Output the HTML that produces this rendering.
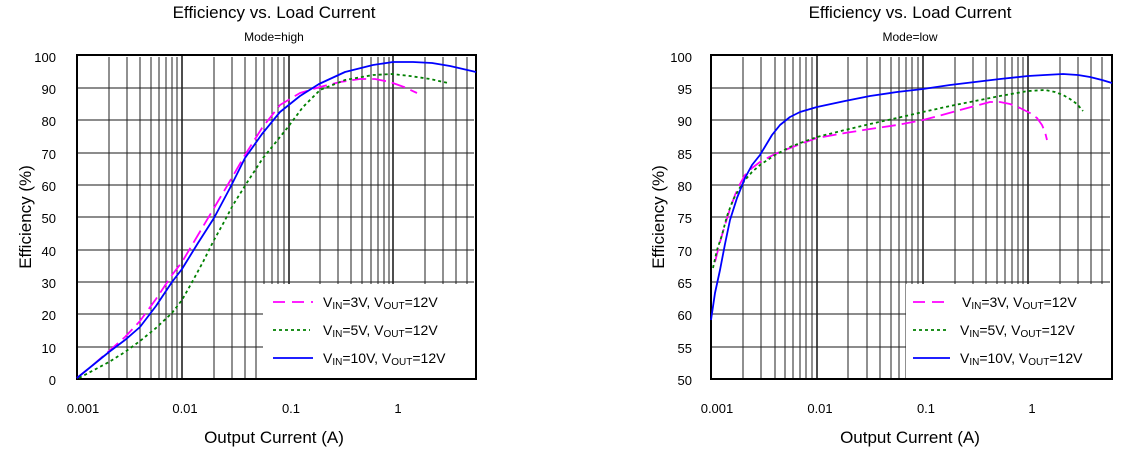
<!DOCTYPE html>
<html><head><meta charset="utf-8"><style>
body{margin:0;background:#fff;width:1130px;height:454px;overflow:hidden}
text{font-family:"Liberation Sans",Arial,sans-serif;fill:#000}
</style></head><body>
<svg width="1130" height="454" viewBox="0 0 1130 454">
<!-- LEFT CHART -->
<g>
<g stroke="#666" stroke-width="1.5">
<line x1="78" y1="88" x2="474" y2="88"/><line x1="78" y1="120" x2="474" y2="120"/><line x1="78" y1="153" x2="474" y2="153"/><line x1="78" y1="185" x2="474" y2="185"/><line x1="78" y1="217" x2="474" y2="217"/><line x1="78" y1="250" x2="474" y2="250"/><line x1="78" y1="282" x2="474" y2="282"/><line x1="78" y1="314" x2="474" y2="314"/><line x1="78" y1="347" x2="474" y2="347"/>
</g>
<g stroke="#222" stroke-width="1">
<line x1="109" y1="57" x2="109" y2="379"/><line x1="127" y1="57" x2="127" y2="379"/><line x1="140" y1="57" x2="140" y2="379"/><line x1="151" y1="57" x2="151" y2="379"/><line x1="159" y1="57" x2="159" y2="379"/><line x1="166" y1="57" x2="166" y2="379"/><line x1="172" y1="57" x2="172" y2="379"/><line x1="177" y1="57" x2="177" y2="379"/><line x1="182" y1="55" x2="182" y2="379" stroke-width="1.6"/>
<line x1="214" y1="57" x2="214" y2="379"/><line x1="232" y1="57" x2="232" y2="379"/><line x1="245" y1="57" x2="245" y2="379"/><line x1="256" y1="57" x2="256" y2="379"/><line x1="264" y1="57" x2="264" y2="379"/><line x1="272" y1="57" x2="272" y2="379"/><line x1="278" y1="57" x2="278" y2="379"/><line x1="284" y1="57" x2="284" y2="379"/><line x1="289" y1="55" x2="289" y2="379" stroke-width="1.6"/>
<line x1="320" y1="57" x2="320" y2="379"/><line x1="338" y1="57" x2="338" y2="379"/><line x1="351" y1="57" x2="351" y2="379"/><line x1="362" y1="57" x2="362" y2="379"/><line x1="371" y1="57" x2="371" y2="379"/><line x1="378" y1="57" x2="378" y2="379"/><line x1="384" y1="57" x2="384" y2="379"/><line x1="389" y1="57" x2="389" y2="379"/><line x1="393" y1="55" x2="393" y2="379" stroke-width="1.6"/>
<line x1="425" y1="57" x2="425" y2="379"/><line x1="443" y1="57" x2="443" y2="379"/><line x1="456" y1="57" x2="456" y2="379"/><line x1="467" y1="57" x2="467" y2="379"/>
</g>
<rect x="263" y="284" width="213" height="95" fill="#fff"/>
<rect x="77" y="55" width="399" height="324" fill="none" stroke="#000" stroke-width="2"/>
<g fill="none" stroke-width="1.8" stroke-linejoin="round">
<polyline stroke="#ff00ff" stroke-dasharray="14 6" points="77,378 93,365 109,351 125,337 140,321 156,299 172,275 182,262 198,235 214,208 230,181 245,155 262,128 280,105 300,93 320,87 340,82 360,79 375,79 390,82 404,87 417,93"/>
<polyline stroke="#008000" stroke-dasharray="3 3" points="79,378 94,370 109,362 125,352 140,341 156,328 172,313 182,300 191,284 203,262 214,240 224,222 233,205 248,181 263,158 276,142 288,127 303,107 320,90 345,80 373,75 392,74 410,76 430,79 448,83"/>
<polyline stroke="#0000ff" points="77,378 93,365 109,352 125,340 140,327 156,306 172,282 182,269 198,243 214,218 230,188 245,158 262,134 280,112 300,96 319,84 345,72 373,65 393,62 413,62 432,63 450,66 476,72"/>
</g>
<g font-size="13" text-anchor="end">
<text x="56" y="62">100</text><text x="56" y="94">90</text><text x="56" y="126">80</text><text x="56" y="159">70</text><text x="56" y="191">60</text><text x="56" y="223">50</text><text x="56" y="256">40</text><text x="56" y="288">30</text><text x="56" y="320">20</text><text x="56" y="353">10</text><text x="56" y="385">0</text>
</g>
<g font-size="13" text-anchor="middle">
<text x="83" y="413">0.001</text><text x="185" y="413">0.01</text><text x="291" y="413">0.1</text><text x="398" y="413">1</text>
</g>
<text x="274" y="18" font-size="17" text-anchor="middle">Efficiency vs. Load Current</text>
<text x="274" y="41" font-size="12" text-anchor="middle">Mode=high</text>
<text x="274" y="443" font-size="17" text-anchor="middle">Output Current (A)</text>
<text transform="translate(31,217) rotate(-90)" font-size="17" text-anchor="middle">Efficiency (%)</text>
<g stroke-width="1.8">
<line x1="273" y1="302" x2="313" y2="302" stroke="#ff00ff" stroke-dasharray="12 7"/>
<line x1="273" y1="330" x2="310" y2="330" stroke="#008000" stroke-dasharray="3 3"/>
<line x1="273" y1="358" x2="313" y2="358" stroke="#0000ff"/>
</g>
<g font-size="14">
<text x="323" y="307">V<tspan font-size="10" dy="2">IN</tspan><tspan dy="-2">=3V, V</tspan><tspan font-size="10" dy="2">OUT</tspan><tspan dy="-2">=12V</tspan></text>
<text x="323" y="335">V<tspan font-size="10" dy="2">IN</tspan><tspan dy="-2">=5V, V</tspan><tspan font-size="10" dy="2">OUT</tspan><tspan dy="-2">=12V</tspan></text>
<text x="323" y="363">V<tspan font-size="10" dy="2">IN</tspan><tspan dy="-2">=10V, V</tspan><tspan font-size="10" dy="2">OUT</tspan><tspan dy="-2">=12V</tspan></text>
</g>
</g>

<!-- RIGHT CHART -->
<g>
<g stroke="#666" stroke-width="1.5">
<line x1="712" y1="88" x2="1110" y2="88"/><line x1="712" y1="120" x2="1110" y2="120"/><line x1="712" y1="153" x2="1110" y2="153"/><line x1="712" y1="185" x2="1110" y2="185"/><line x1="712" y1="217" x2="1110" y2="217"/><line x1="712" y1="250" x2="1110" y2="250"/><line x1="712" y1="282" x2="1110" y2="282"/><line x1="712" y1="314" x2="1110" y2="314"/><line x1="712" y1="347" x2="1110" y2="347"/>
</g>
<g stroke="#222" stroke-width="1">
<line x1="743" y1="57" x2="743" y2="379"/><line x1="761" y1="57" x2="761" y2="379"/><line x1="775" y1="57" x2="775" y2="379"/><line x1="785" y1="57" x2="785" y2="379"/><line x1="793" y1="57" x2="793" y2="379"/><line x1="800" y1="57" x2="800" y2="379"/><line x1="806" y1="57" x2="806" y2="379"/><line x1="812" y1="57" x2="812" y2="379"/><line x1="817" y1="55" x2="817" y2="379" stroke-width="1.6"/>
<line x1="848" y1="57" x2="848" y2="379"/><line x1="867" y1="57" x2="867" y2="379"/><line x1="880" y1="57" x2="880" y2="379"/><line x1="891" y1="57" x2="891" y2="379"/><line x1="899" y1="57" x2="899" y2="379"/><line x1="906" y1="57" x2="906" y2="379"/><line x1="912" y1="57" x2="912" y2="379"/><line x1="918" y1="57" x2="918" y2="379"/><line x1="923" y1="55" x2="923" y2="379" stroke-width="1.6"/>
<line x1="955" y1="57" x2="955" y2="379"/><line x1="973" y1="57" x2="973" y2="379"/><line x1="986" y1="57" x2="986" y2="379"/><line x1="997" y1="57" x2="997" y2="379"/><line x1="1005" y1="57" x2="1005" y2="379"/><line x1="1012" y1="57" x2="1012" y2="379"/><line x1="1018" y1="57" x2="1018" y2="379"/><line x1="1023" y1="57" x2="1023" y2="379"/><line x1="1028" y1="55" x2="1028" y2="379" stroke-width="1.6"/>
<line x1="1060" y1="57" x2="1060" y2="379"/><line x1="1078" y1="57" x2="1078" y2="379"/><line x1="1091" y1="57" x2="1091" y2="379"/><line x1="1102" y1="57" x2="1102" y2="379"/>
</g>
<rect x="906" y="284" width="206" height="95" fill="#fff"/>
<rect x="711" y="55" width="401" height="324" fill="none" stroke="#000" stroke-width="2"/>
<g fill="none" stroke-width="1.8" stroke-linejoin="round">
<polyline stroke="#ff00ff" stroke-dasharray="14 6" points="715,262 720,242 725,225 730,209 735,195 740,184 745,175 752,168 760,162 775,154 790,148 803,143 817,138 845,133 870,129 897,125 923,120 942,115 960,110 975,106 990,102 1000,102 1010,104 1020,108 1030,113 1037,118 1042,125 1045,132 1047,140"/>
<polyline stroke="#008000" stroke-dasharray="3 3" points="713,268 717,250 722,235 727,216 733,200 739,189 745,180 752,172 760,165 775,155 790,147 803,142 817,137 845,130 870,124 897,118 923,112 950,106 975,101 1000,96 1028,91 1045,90 1055,92 1063,95 1070,99 1077,104 1083,111"/>
<polyline stroke="#0000ff" points="711,320 715,293 720,270 725,244 730,220 737,198 745,178 752,165 760,155 772,135 780,125 790,117 800,112 817,107 845,101 870,96 897,92 923,89 950,85 975,82 1000,79 1028,76 1045,75 1063,74 1078,75 1090,77 1102,80 1112,83"/>
</g>
<g font-size="13" text-anchor="end">
<text x="692" y="62">100</text><text x="692" y="94">95</text><text x="692" y="126">90</text><text x="692" y="159">85</text><text x="692" y="191">80</text><text x="692" y="223">75</text><text x="692" y="256">70</text><text x="692" y="288">65</text><text x="692" y="320">60</text><text x="692" y="353">55</text><text x="692" y="385">50</text>
</g>
<g font-size="13" text-anchor="middle">
<text x="717" y="413">0.001</text><text x="820" y="413">0.01</text><text x="926" y="413">0.1</text><text x="1032" y="413">1</text>
</g>
<text x="910" y="18" font-size="17" text-anchor="middle">Efficiency vs. Load Current</text>
<text x="910" y="41" font-size="12" text-anchor="middle">Mode=low</text>
<text x="910" y="443" font-size="17" text-anchor="middle">Output Current (A)</text>
<text transform="translate(664,217) rotate(-90)" font-size="17" text-anchor="middle">Efficiency (%)</text>
<g stroke-width="1.8">
<line x1="913" y1="302" x2="950" y2="302" stroke="#ff00ff" stroke-dasharray="12 7"/>
<line x1="913" y1="330" x2="948" y2="330" stroke="#008000" stroke-dasharray="3 3"/>
<line x1="913" y1="358" x2="950" y2="358" stroke="#0000ff"/>
</g>
<g font-size="14">
<text x="962" y="307">V<tspan font-size="10" dy="2">IN</tspan><tspan dy="-2">=3V, V</tspan><tspan font-size="10" dy="2">OUT</tspan><tspan dy="-2">=12V</tspan></text>
<text x="960" y="335">V<tspan font-size="10" dy="2">IN</tspan><tspan dy="-2">=5V, V</tspan><tspan font-size="10" dy="2">OUT</tspan><tspan dy="-2">=12V</tspan></text>
<text x="960" y="363">V<tspan font-size="10" dy="2">IN</tspan><tspan dy="-2">=10V, V</tspan><tspan font-size="10" dy="2">OUT</tspan><tspan dy="-2">=12V</tspan></text>
</g>
</g>
</svg>
</body></html>
